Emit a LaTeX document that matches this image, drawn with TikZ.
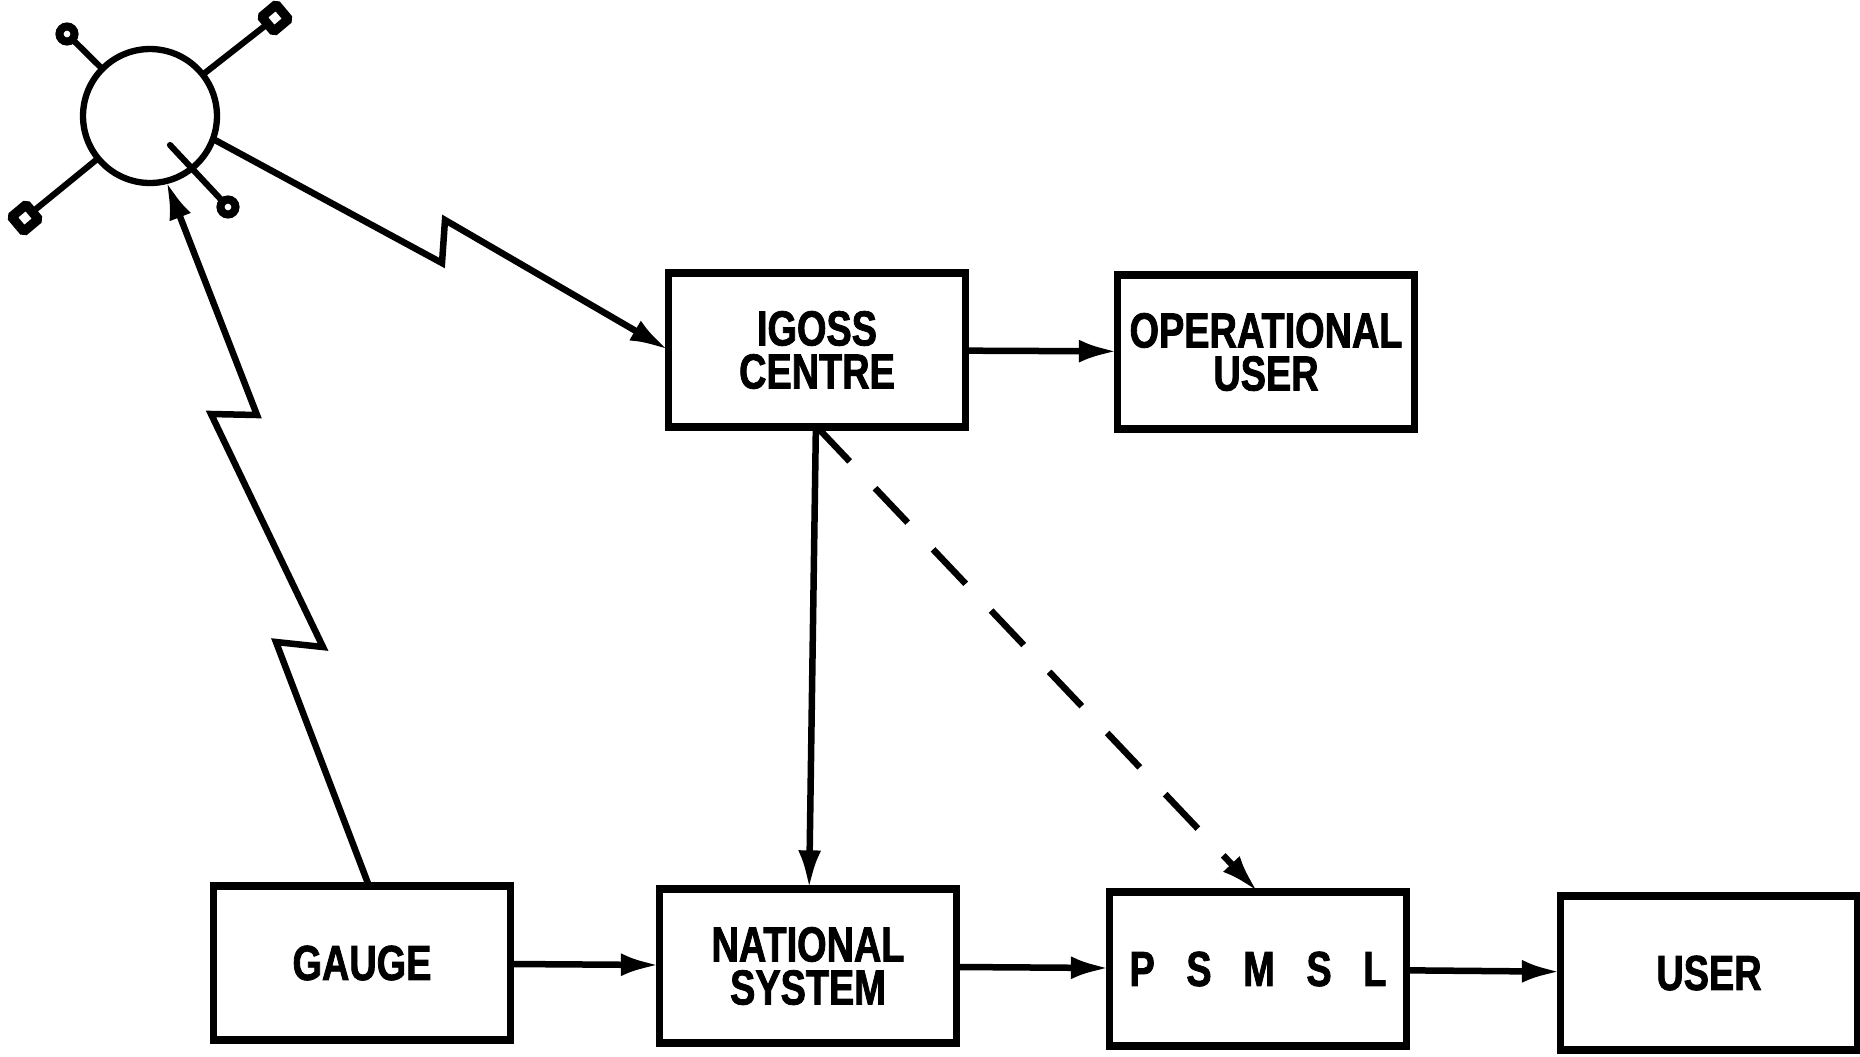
\documentclass[tikz,border=0pt]{standalone}
\usepackage{fontspec}
\usetikzlibrary{arrows.meta}
\newfontfamily\boxfont[FakeStretch=0.77,FakeBold=1.6]{Liberation Sans Bold}
\tikzset{
	stationbox/.style={draw, line width=4.4pt, minimum width=5.94cm, minimum height=3.08cm, inner sep=0pt, outer sep=0pt, align=center, font=\boxfont\fontsize{28}{24.5}\selectfont},
	link/.style={line width=3.7pt, -{Latex[length=22pt,width=13pt]}},
	boom/.style={line width=3.5pt},
	dishround/.style={draw, circle, line width=4.6pt, minimum size=0.3cm, inner sep=0pt, outer sep=0pt},
	dishsquare/.style={draw, rectangle, rounded corners=1pt, rotate=40, line width=5.4pt, minimum size=0.38cm, inner sep=0pt, outer sep=0pt}
}
\begin{document}
\begin{tikzpicture}[x=0.02cm, y=-0.02cm]
		\useasboundingbox (0,0) rectangle (1860,1056);

		% SATELLITE
		\node[draw, circle, line width=3.6pt, minimum size=2.68cm, inner sep=0pt, outer sep=0pt] (sat) at (150,116) {};
		\node[dishround] (antnw) at (67,34) {};
		\node[dishsquare] (antne) at (275,18) {};
		\node[dishsquare] (antsw) at (25,218) {};
		\node[dishround] (antse) at (228,207) {};
		\coordinate (antin) at (170,145);
		\draw[boom] (sat) -- (antnw);
		\draw[boom] (sat) -- (antne);
		\draw[boom] (sat) -- (antsw);
		\draw[boom, line cap=round] (antin) -- (antse);

		% BOXES
		\node[stationbox] (igoss) at (817,350) {IGOSS\\CENTRE};
		\node[stationbox] (operational) at (1266,352) {OPERATIONAL\\USER};
		\node[stationbox] (gauge) at (362,963) {GAUGE};
		\node[stationbox] (national) at (808,966) {NATIONAL\\SYSTEM};
		\node[stationbox] (psmsl) at (1258,969) {\spaceskip=18pt P S M S L};
		\node[stationbox] (user) at (1709,973) {USER};

		% RADIO LINKS
		\coordinate (downa) at (442,263);
		\coordinate (downb) at (445,220);
		\draw[link] (sat.-20) -- (downa) -- (downb) -- (igoss.west);
		\coordinate (upa) at (276,642);
		\coordinate (upb) at (323,647);
		\coordinate (upc) at (211,414);
		\coordinate (upd) at (257,415);
		\draw[link] ([xshift=0.14cm]gauge.north) -- (upa) -- (upb) -- (upc) -- (upd) -- (sat.284);

		% DATA FLOW
		\draw[link] (igoss) -- (operational);
		\draw[link] (igoss) -- (national);
		\draw[link] (gauge) -- (national);
		\draw[link] (national) -- (psmsl);
		\draw[link] (psmsl) -- (user);
		\draw[link, dash pattern=on 27pt off 21pt] (igoss.south) -- (psmsl.north);
	\end{tikzpicture}
\end{document}
